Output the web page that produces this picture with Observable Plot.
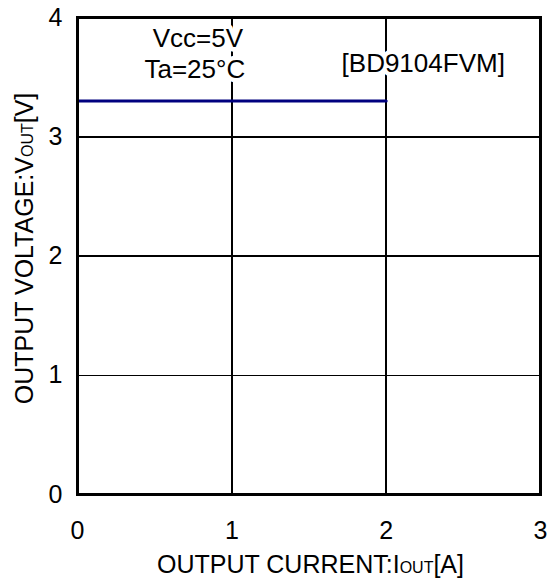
<!DOCTYPE html>
<html><head><meta charset="utf-8">
<script src="https://cdn.jsdelivr.net/npm/d3@7"></script>
<script src="https://cdn.jsdelivr.net/npm/@observablehq/plot@0.6"></script>
<style>body{margin:0;background:#fff} svg{display:block}</style>
</head><body><div id="chart"></div>
<script>
const currentA = [0, 2];
const voltageV = [3.3, 3.3];
const xTicks = [0, 1, 2, 3];
const yTicks = [0, 1, 2, 3, 4];
const gridXVals = [1, 2];
const gridYVals = [1, 2, 3];
const noteTexts = ["Vcc=5V", "Ta=25°C", "[BD9104FVM]"];
const noteX = [0.78, 0.76, 2.24];
const noteY = [3.82, 3.56, 3.61];
const xTitleParts = ["OUTPUT CURRENT:I", "OUT", "[A]"];
const yTitleParts = ["OUTPUT VOLTAGE:V", "OUT", "[V]"];

const lineData = currentA.map((x, i) => ({x, y: voltageV[i]}));
const notes = noteTexts.map((t, i) => ({t, x: noteX[i], y: noteY[i]}));
const FONT = "'Liberation Sans', Arial, sans-serif";

const plot = Plot.plot({
  width: 551,
  height: 586,
  marginLeft: 77,
  marginRight: 11,
  marginTop: 17,
  marginBottom: 92,
  style: {fontFamily: FONT, fontSize: "25px", background: "#fff", color: "#000"},
  x: {domain: [0, 3]},
  y: {domain: [0, 4]},
  marks: [
    Plot.ruleX(gridXVals, {stroke: "#000", strokeWidth: 1.5, shapeRendering: "crispEdges"}),
    Plot.ruleY(gridYVals, {stroke: "#000", strokeWidth: 1.5, shapeRendering: "crispEdges"}),
    Plot.line(lineData, {x: "x", y: "y", stroke: "#00007f", strokeWidth: 3}),
    Plot.text(notes, {x: "x", y: "y", text: "t", fontSize: 26, fill: "#000", stroke: "#fff", strokeWidth: 9}),
    Plot.axisX(xTicks, {tickSize: 0, tickPadding: 27, label: null, fontSize: 25, tickFormat: "d"}),
    Plot.axisY(yTicks, {tickSize: 0, tickPadding: 15, label: null, fontSize: 25, tickFormat: "d"}),
    Plot.frame({stroke: "#000", strokeWidth: 3})
  ]
});

const svg = d3.select(plot);
const xr = plot.scale("x").range;
const yr = plot.scale("y").range;
const xt = svg.append("text")
  .attr("x", (xr[0] + xr[1]) / 2 + 2)
  .attr("y", 573)
  .attr("text-anchor", "middle")
  .attr("font-family", FONT)
  .attr("font-size", 25)
  .attr("fill", "#000");
xt.append("tspan").text(xTitleParts[0]);
xt.append("tspan").attr("font-size", 16).text(xTitleParts[1]);
xt.append("tspan").text(xTitleParts[2]);

const cy = (yr[0] + yr[1]) / 2 - 7;
const yt = svg.append("text")
  .attr("transform", `translate(33,${cy}) rotate(-90)`)
  .attr("text-anchor", "middle")
  .attr("font-family", FONT)
  .attr("font-size", 25)
  .attr("fill", "#000");
yt.append("tspan").text(yTitleParts[0]);
yt.append("tspan").attr("font-size", 16).text(yTitleParts[1]);
yt.append("tspan").text(yTitleParts[2]);

document.getElementById("chart").appendChild(plot);
</script>
</body></html>
